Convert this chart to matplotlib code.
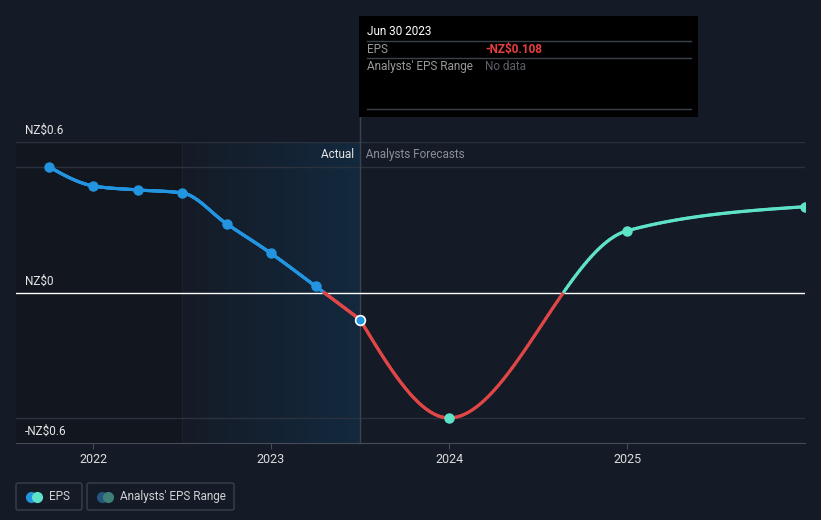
import numpy as np
import matplotlib
matplotlib.use('Agg')
import matplotlib.pyplot as plt
from matplotlib.collections import LineCollection
from matplotlib.patches import Rectangle, FancyBboxPatch
import matplotlib.transforms as mtransforms

plt.rcParams['font.family'] = ['Roboto', 'DejaVu Sans']

# EPS data (NZ$), fractional years
past_x = [2021.75, 2022.0, 2022.25, 2022.5, 2022.75, 2023.0, 2023.25, 2023.5]
past_y = [0.502, 0.425, 0.409, 0.397, 0.274, 0.156, 0.025, -0.108]
fc_x = [2023.5, 2024.0, 2025.0, 2026.0]
fc_y = [-0.108, -0.50, 0.246, 0.342]
year_ticks = [2022, 2023, 2024, 2025]
y_labels = {0.6: 'NZ$0.6', 0.0: 'NZ$0', -0.6: '-NZ$0.6'}

BG = '#151b26'
BLUE = '#2394df'
RED = '#e04646'
TEAL = '#5ee3c8'


def monotone(x, y, n=80):
    # monotone cubic (like d3 curveMonotoneX), used only to draw the curve
    x = np.asarray(x, float)
    y = np.asarray(y, float)
    h = np.diff(x)
    s = np.diff(y) / h
    t = np.zeros(len(x))
    for i in range(1, len(x) - 1):
        if s[i - 1] * s[i] <= 0:
            t[i] = 0
        else:
            p = (s[i - 1] * h[i] + s[i] * h[i - 1]) / (h[i - 1] + h[i])
            t[i] = (np.sign(s[i - 1]) + np.sign(s[i])) * min(abs(s[i - 1]), abs(s[i]), 0.5 * abs(p))
    t[0] = (3 * s[0] - t[1]) / 2
    t[-1] = (3 * s[-1] - t[-2]) / 2
    xs, ys = [], []
    for i in range(len(x) - 1):
        u = np.linspace(0, 1, n)
        h00 = 2 * u**3 - 3 * u**2 + 1
        h10 = u**3 - 2 * u**2 + u
        h01 = -2 * u**3 + 3 * u**2
        h11 = u**3 - u**2
        xs.append(x[i] + u * h[i])
        ys.append(h00 * y[i] + h10 * h[i] * t[i] + h01 * y[i + 1] + h11 * h[i] * t[i + 1])
    return np.concatenate(xs), np.concatenate(ys)


fig = plt.figure(figsize=(8.21, 5.2), dpi=100)
fig.patch.set_facecolor(BG)
W, H = 821, 520
ax = fig.add_axes([16 / W, (H - 443) / H, (805 - 16) / W, (443 - 142) / H])
ax.set_facecolor(BG)
xmin, xmax = 2021.567, 2026.0
ax.set_xlim(xmin, xmax)
ax.set_ylim(-0.6, 0.6)

# shaded areas
ax.axvspan(xmin, 2022.5, color='#12161e', zorder=0, lw=0)
grad = np.zeros((2, 200, 4))
c0 = np.array([21, 27, 38]) / 255
c1 = np.array([19, 41, 62]) / 255
for k in range(200):
    f = k / 199
    grad[:, k, :3] = c0 * (1 - f) + c1 * f
    grad[:, k, 3] = 1
ax.imshow(grad, extent=[2022.5, 2023.5, -0.6, 0.6], aspect='auto', zorder=0.5)
ax.axvline(2022.5, color='#1a2230', lw=0.8, zorder=0.6)

# grid lines
for v in [0.6, 0.5, -0.5]:
    ax.axhline(v, color='#2c323d', lw=1, zorder=1)
ax.axhline(0, color='white', lw=1, zorder=2)
ax.axvline(2023.5, ymin=0, ymax=(443 - 117) / (443 - 142), color='#3a4350', lw=1,
           clip_on=False, zorder=1)

# curves
px, py = monotone(past_x, past_y)
fx, fy = monotone(fc_x, fc_y)
allx = np.concatenate([px, fx])
ally = np.concatenate([py, fy])
pts = np.column_stack([allx, ally]).reshape(-1, 1, 2)
segs = np.concatenate([pts[:-1], pts[1:]], axis=1)
colors = []
for sg in segs:
    mx, my = sg[:, 0].mean(), sg[:, 1].mean()
    if my < 0:
        colors.append(RED)
    elif mx <= 2023.5:
        colors.append(BLUE)
    else:
        colors.append(TEAL)
lc = LineCollection(segs, colors=colors, linewidths=2.3, capstyle='round', zorder=3)
ax.add_collection(lc)

ax.plot(past_x[:-1], past_y[:-1], 'o', color=BLUE, ms=6.5, zorder=4)
ax.plot(past_x[-1], past_y[-1], 'o', color=BLUE, ms=7, mec='white', mew=1.2, zorder=5)
ax.plot(fc_x[1:], fc_y[1:], 'o', color=TEAL, ms=6.5, zorder=4, clip_on=True)

# axes styling
for sp in ['top', 'right', 'left']:
    ax.spines[sp].set_visible(False)
ax.spines['bottom'].set_color('#454c57')
ax.set_xticks(year_ticks)
ax.set_xticklabels([str(y) for y in year_ticks])
ax.set_yticks([])
ax.tick_params(axis='x', colors='#454c57', labelcolor='#dcdcdc', length=4, labelsize=9, pad=3)

for v, lab in y_labels.items():
    ax.annotate(lab, xy=(0, v), xycoords=mtransforms.blended_transform_factory(ax.transAxes, ax.transData),
                xytext=(9, 5), textcoords='offset pixels', color='#e6e6e6', fontsize=8.5,
                ha='left', va='bottom')

ax.text(2023.5, 0.55, 'Actual  ', color='#e6e6e6', fontsize=8.5, ha='right', va='center', zorder=6)
ax.text(2023.5, 0.55, '  Analysts Forecasts', color='#8a8f96', fontsize=8.5, ha='left', va='center', zorder=6)

# overlay in pixel coordinates for tooltip and legend
ov = fig.add_axes([0, 0, 1, 1], zorder=10)
ov.set_xlim(0, W)
ov.set_ylim(H, 0)
ov.axis('off')
ov.patch.set_alpha(0)

ov.add_patch(Rectangle((359, 16), 339, 101, color='black', lw=0))
for yy in [41, 58, 109]:
    ov.plot([367, 691], [yy, yy], color='#3c4048', lw=1)
ov.text(367, 31.5, 'Jun 30 2023', color='white', fontsize=8.5, va='center')
ov.text(367, 49.5, 'EPS', color='#9a9a9a', fontsize=8.5, va='center')
ov.text(485, 49.5, '-NZ$0.108', color='#e8403f', fontsize=8.5, va='center', fontweight='bold')
ov.text(367, 66.5, "Analysts' EPS Range", color='#9a9a9a', fontsize=8.5, va='center')
ov.text(485, 66.5, 'No data', color='#5e6168', fontsize=8.5, va='center')

# legend
for x0, w, lab, ca, cb in [(16, 66, 'EPS', BLUE, TEAL), (87, 147, "Analysts' EPS Range", '#24557e', '#3f7f77')]:
    ov.add_patch(FancyBboxPatch((x0, 483), w, 27, boxstyle='round,pad=0,rounding_size=2',
                                fc=BG, ec='#3b414c', lw=1))
    ov.plot(x0 + 15, 496.5, 'o', color=ca, ms=7)
    ov.plot(x0 + 21, 496.5, 'o', color=cb, ms=7)
    ov.text(x0 + 33, 496.5, lab, color='#cfd2d6', fontsize=8.5, va='center')

fig.savefig('out.png', dpi=100, facecolor=BG)
